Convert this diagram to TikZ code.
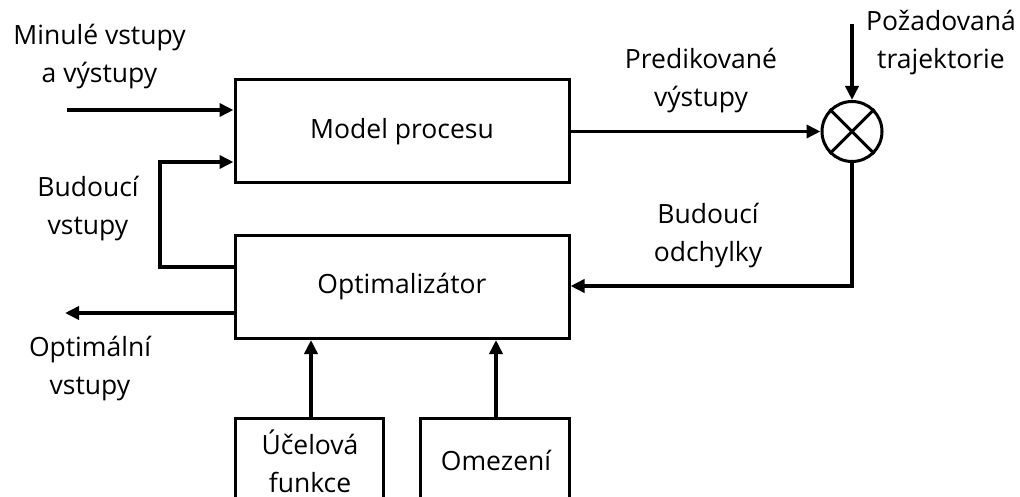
\documentclass[tikz,border=0pt]{standalone}
\usepackage{fontspec}
\setmainfont{Open Sans}
\usetikzlibrary{arrows.meta}
\begin{document}
\begin{tikzpicture}[x=1pt,y=-1pt,
  blk/.style={draw,line width=3pt,minimum width=334pt,minimum height=103pt,inner sep=0pt},
  lbl/.style={align=center,inner sep=0pt,font=\fontsize{26.5}{38}\selectfont},
  ln/.style={line width=3.5pt},
  arr/.style={line width=3.5pt,-{Triangle[length=14pt,width=13pt]}}]
\useasboundingbox (0,0) rectangle (1020,497);
\node[blk,lbl] (model) at (402,131.5) {Model procesu};
\node[blk,lbl] (opt) at (402,287) {Optimalizátor};
\node[draw,circle,line width=3pt,minimum size=60pt,inner sep=0pt] (sum) at (852,131.5) {};
\draw[line width=3pt] (sum.north west) -- (sum.south east) (sum.north east) -- (sum.south west);
% labels
\node[lbl] (l1) at (99.5,57) {Minulé vstupy\\a výstupy};
\node[lbl] (l2) at (88,209) {Budoucí\\vstupy};
\node[lbl] (l3) at (90,369) {Optimální\\vstupy};
\node[lbl] (l4) at (701,81) {Predikované\\výstupy};
\node[lbl] (l5) at (708,236) {Budoucí\\odchylky};
\node[lbl] (l6) at (941,43) {Požadovaná\\trajektorie};
% bottom boxes
\draw[line width=3pt] (235.5,500) |- (383.5,418) -- (383.5,500);
\draw[line width=3pt] (420,500) |- (569,418) -- (569,500);
\coordinate (ucel) at (311,418);
\coordinate (omez) at (496,418);
\node[lbl] (t1) at (310,461) {Účelová\\funkce};
\node[lbl] (t2) at (496,460) {Omezení};
% connectors
\coordinate (minS) at (67,110);
\draw[arr] (minS) -- (minS -| model.west);
\coordinate (bv) at (160,162);
\draw[arr,line join=miter] (opt.west |- 0,267) -| (bv) -- (bv -| model.west);
\coordinate (optout) at (65,313);
\draw[arr] (opt.west |- optout) -- (optout);
\draw[arr] (model.east) -- (sum.west);
\coordinate (pozS) at (852,24);
\draw[arr] (pozS) -- (sum.north);
\draw[arr,line join=miter] (sum.south) |- (opt.east |- 0,286);
\draw[arr] (ucel) -- (ucel |- opt.south);
\draw[arr] (omez) -- (omez |- opt.south);
\end{tikzpicture}
\end{document}
